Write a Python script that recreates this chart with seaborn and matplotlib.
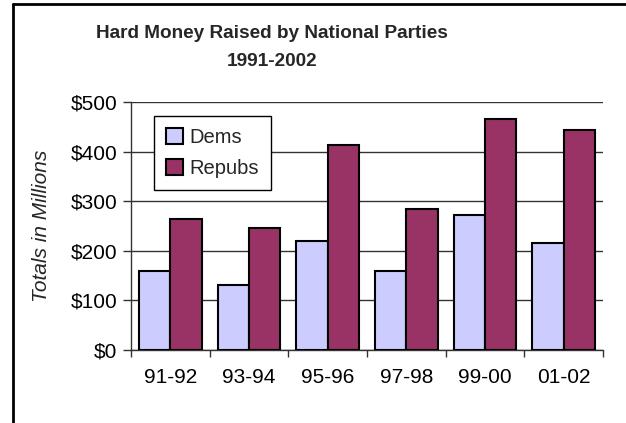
import matplotlib
matplotlib.use("Agg")
import matplotlib.pyplot as plt
from matplotlib.lines import Line2D
from matplotlib.ticker import FixedLocator, FuncFormatter
import seaborn as sns
import pandas as pd

periods = ["91-92", "93-94", "95-96", "97-98", "99-00", "01-02"]
dems = [160, 132, 220, 160, 273, 216]
repubs = [265, 245, 414, 285, 466, 443]
series_names = ["Dems", "Repubs"]
yticks = [0, 100, 200, 300, 400, 500]

df = pd.DataFrame({
    "period": periods * 2,
    "value": dems + repubs,
    "party": [series_names[0]] * len(periods) + [series_names[1]] * len(periods),
})

sns.set_theme(style="white")
plt.rcParams["font.family"] = ["Liberation Sans", "DejaVu Sans"]

fig = plt.figure(figsize=(6.26, 4.23), dpi=100)
ax = fig.add_axes([131/626, 1-350/423, (603-131)/626, (350-102)/423])

palette = {"Dems": "#CCCCFF", "Repubs": "#993366"}
sns.barplot(data=df, x="period", y="value", hue="party", palette=palette,
            order=periods, hue_order=series_names, width=0.8, saturation=1,
            edgecolor="black", linewidth=1.5, ax=ax, zorder=3)

ax.set_xlim(-0.5, len(periods) - 0.5)
ax.set_ylim(0, 500)
ax.yaxis.set_major_locator(FixedLocator(yticks))
ax.yaxis.set_major_formatter(FuncFormatter(lambda v, p: f"${int(v)}"))
ax.grid(axis="y", color="#333333", linewidth=1, zorder=0)
ax.set_axisbelow(True)

for s in ["top", "right"]:
    ax.spines[s].set_visible(False)
for s in ["left", "bottom"]:
    ax.spines[s].set_color("#333333")
    ax.spines[s].set_linewidth(1)

fs = 15
ax.tick_params(axis="y", which="major", direction="out", length=6, width=1,
               color="#333333", labelsize=fs, pad=4, left=True)
ax.tick_params(axis="x", which="major", length=0, labelsize=fs, pad=13)
ax.xaxis.set_minor_locator(FixedLocator([i - 0.5 for i in range(len(periods) + 1)]))
ax.tick_params(axis="x", which="minor", direction="out", length=5, width=1,
               color="#333333", bottom=True)
for lbl in ax.get_xticklabels() + ax.get_yticklabels():
    lbl.set_color("black")

ax.set_xlabel("")
ax.set_ylabel("Totals in Millions", fontsize=fs, style="italic", labelpad=14)

leg = ax.legend(loc="upper left", bbox_to_anchor=(0.0487, 0.9435), borderaxespad=0,
                frameon=True, fancybox=False, edgecolor="black", fontsize=14.5,
                handlelength=0.85, handleheight=0.85, handletextpad=0.3,
                labelspacing=0.6, borderpad=0.6, framealpha=1)
leg.get_frame().set_linewidth(1)
for h in leg.legend_handles:
    h.set_edgecolor("black")
    h.set_linewidth(1.5)

fig.text(272/626, 1-34/423, "Hard Money Raised by National Parties", ha="center",
         va="center", fontsize=13.7, fontweight="bold")
fig.text(272/626, 1-61/423, "1991-2002", ha="center", va="center",
         fontsize=13.7, fontweight="bold")

fig.add_artist(Line2D([12.5/626, 1], [1-4.5/423, 1-4.5/423], color="black", linewidth=2,
                      transform=fig.transFigure))
fig.add_artist(Line2D([12.5/626, 12.5/626], [0, 1-4.5/423], color="black", linewidth=2,
                      transform=fig.transFigure))

fig.savefig("out.png", dpi=100)
